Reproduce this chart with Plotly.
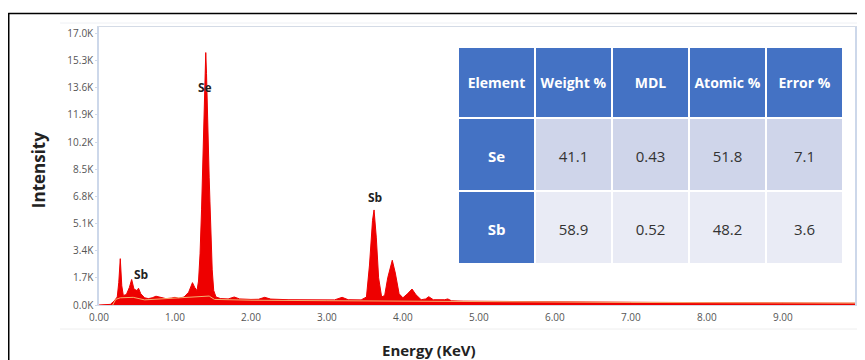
import plotly.graph_objects as go

# ---- spectrum data (energy keV, counts) ----
energy = [0.00, 0.10, 0.15, 0.20, 0.24, 0.26, 0.28, 0.30, 0.32, 0.36, 0.40, 0.43, 0.46, 0.50,
          0.52, 0.55, 0.60, 0.65, 0.70, 0.75, 0.80, 0.88, 0.95, 1.00, 1.05, 1.12, 1.18, 1.23,
          1.26, 1.29, 1.31, 1.33, 1.35, 1.37, 1.39, 1.405, 1.415, 1.43, 1.45, 1.46, 1.47, 1.49,
          1.51, 1.54, 1.60, 1.70, 1.78, 1.85, 2.00, 2.10, 2.18, 2.26, 2.50, 2.80, 3.10, 3.20,
          3.28, 3.45, 3.52, 3.56, 3.60, 3.62, 3.65, 3.68, 3.72, 3.76, 3.80, 3.86, 3.90, 3.95,
          4.00, 4.06, 4.12, 4.17, 4.24, 4.30, 4.34, 4.40, 4.50, 4.55, 4.59, 4.64, 4.80, 5.20,
          5.60, 6.00, 6.50, 7.00, 7.50, 8.00, 8.50, 9.00, 9.50, 9.95]
counts = [0, 0, 40, 250, 500, 1400, 2900, 1200, 600, 650, 1100, 1600, 1000, 900,
          1050, 700, 450, 400, 450, 550, 500, 400, 430, 480, 420, 500, 800, 1400,
          1100, 900, 1500, 3200, 6000, 9500, 13500, 15800, 14500, 11000, 8000, 6500, 4800, 2200,
          900, 500, 400, 380, 500, 380, 350, 360, 480, 370, 330, 320, 320, 480,
          330, 320, 500, 2500, 5300, 5950, 4200, 1700, 500, 600, 1700, 2800, 2000, 700,
          450, 700, 1000, 650, 330, 380, 520, 330, 300, 330, 380, 260, 240, 220,
          200, 190, 180, 170, 160, 150, 140, 130, 120, 110]

# background fit line
bg_energy = [0.18, 0.22, 0.28, 0.45, 0.60, 0.80, 1.00, 1.20, 1.30, 1.45, 1.52, 2.00, 3.00,
             4.00, 5.00, 7.00, 9.00, 9.95]
bg_counts = [0, 350, 450, 480, 320, 380, 420, 480, 530, 560, 350, 300, 270,
             240, 200, 160, 130, 120]

# peak labels
peak_labels = ["Se", "Sb", "Sb"]
peak_x = [1.40, 3.64, 0.56]
peak_y = [13600, 6750, 1900]

# axis ticks
x_tick_vals = [0, 1, 2, 3, 4, 5, 6, 7, 8, 9]
x_tick_text = ["0.00", "1.00", "2.00", "3.00", "4.00", "5.00", "6.00", "7.00", "8.00", "9.00"]
y_tick_vals = [0, 1700, 3400, 5100, 6800, 8500, 10200, 11900, 13600, 15300, 17000]
y_tick_text = ["0.0K", "1.7K", "3.4K", "5.1K", "6.8K", "8.5K", "10.2K", "11.9K", "13.6K", "15.3K", "17.0K"]

# table
table_header = ["Element", "Weight %", "MDL", "Atomic %", "Error %"]
elements = ["Se", "Sb"]
weight_pct = ["41.1", "58.9"]
mdl = ["0.43", "0.52"]
atomic_pct = ["51.8", "48.2"]
error_pct = ["7.1", "3.6"]

# page has an 8px body margin: work in reference pixels, offset by 8
OFF = 8
W, H = 865 - OFF, 360 - OFF
L, R, T, B = 99 - OFF, 8, 27 - OFF, 55
pw, ph = W - L - R, H - T - B

def px(x):
    return (x - OFF - L) / pw

def py(y):
    return 1 - (y - OFF - T) / ph

fig = go.Figure()

fig.add_trace(go.Scatter(
    x=energy, y=counts, mode="lines", fill="tozeroy",
    line=dict(color="#ee0000", width=1), fillcolor="#ee0000",
    hoverinfo="skip", showlegend=False))

fig.add_trace(go.Scatter(
    x=bg_energy, y=bg_counts, mode="lines",
    line=dict(color="#f5b070", width=1), hoverinfo="skip", showlegend=False))

blue = "#4472c4"
row1 = "#cfd5ea"
row2 = "#e9ebf5"
ncol = len(table_header)
PAD = "\u00a0<br>"
fig.add_trace(go.Table(
    domain=dict(x=[px(459), px(846)], y=[py(268), py(47)]),
    columnwidth=[1] * ncol,
    header=dict(values=[PAD + "<b>%s</b>" % h for h in table_header],
                fill_color=blue, line=dict(color="white", width=2),
                font=dict(color="white", size=14, family="Open Sans"),
                align="center", height=71),
    cells=dict(values=[[PAD + "<b>%s</b>" % e for e in elements]]
                      + [[PAD + v for v in col] for col in (weight_pct, mdl, atomic_pct, error_pct)],
               fill_color=[[blue, blue]] + [[row1, row2]] * (ncol - 1),
               line=dict(color="white", width=2),
               font=dict(color=[["white", "white"]] + [["#333333", "#333333"]] * (ncol - 1),
                         size=15, family="Open Sans"),
               align="center", height=73),
))

for lab, x, y in zip(peak_labels, peak_x, peak_y):
    fig.add_annotation(x=x, y=y, text="<b>%s</b>" % lab, showarrow=False,
                       font=dict(size=12, color="#222222", family="Open Sans"))

fig.add_annotation(xref="paper", yref="paper", x=px(38), y=py(170), text="<b>Intensity</b>",
                   textangle=-90, showarrow=False, xanchor="center", yanchor="middle",
                   font=dict(size=17, color="#222222", family="Open Sans"))
fig.add_annotation(xref="paper", yref="paper", x=px(430), y=py(350), text="<b>Energy (KeV)</b>",
                   showarrow=False, xanchor="center", yanchor="middle",
                   font=dict(size=15, color="#222222", family="Open Sans"))

# outer frame and faint screenshot lines
fig.add_shape(type="line", xref="paper", yref="paper", x0=px(8.5), x1=px(8.5), y0=py(13), y1=py(365),
              line=dict(color="black", width=1.5))
fig.add_shape(type="line", xref="paper", yref="paper", x0=px(8), x1=px(870), y0=py(13.5), y1=py(13.5),
              line=dict(color="black", width=1.5))
fig.add_shape(type="line", xref="paper", yref="paper", x0=px(60), x1=px(870), y0=py(329), y1=py(329),
              line=dict(color="#eeeeee", width=1))
fig.add_shape(type="line", xref="paper", yref="paper", x0=px(60), x1=px(870), y0=py(23), y1=py(23),
              line=dict(color="#eef0f4", width=1))

fig.update_layout(
    width=W, height=H, margin=dict(l=L, r=R, t=T, b=B),
    paper_bgcolor="white", plot_bgcolor="white",
    font=dict(family="Open Sans", color="#555555"),
    showlegend=False,
    xaxis=dict(range=[0, 9.95], tickvals=x_tick_vals, ticktext=x_tick_text,
               showgrid=False, zeroline=False, showline=True, mirror=True,
               linecolor="#d4dbe6", linewidth=1, ticks="outside", ticklen=3,
               tickcolor="rgba(0,0,0,0)",
               tickfont=dict(size=10, color="#555555")),
    yaxis=dict(range=[0, 17400], tickvals=y_tick_vals, ticktext=y_tick_text,
               showgrid=False, zeroline=False, showline=True, mirror=True,
               linecolor="#cdd8ea", linewidth=1.5, ticks="outside", ticklen=2,
               tickcolor="#cdd8ea",
               tickfont=dict(size=10, color="#555555")),
)

fig.write_html("out.html")
